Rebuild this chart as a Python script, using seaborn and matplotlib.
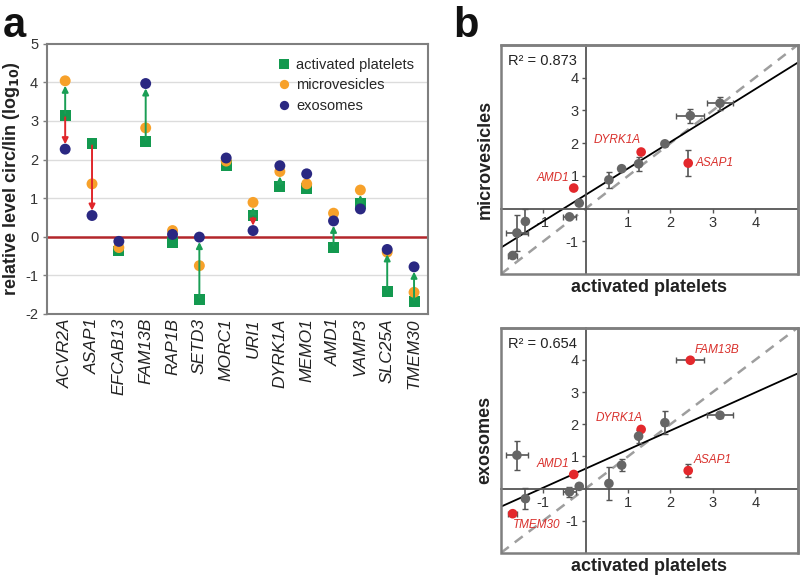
import numpy as np
import pandas as pd
import matplotlib.pyplot as plt
import seaborn as sns
from matplotlib.patches import Rectangle

# ---- panel a: relative circ/lin levels (log10) per gene ----
genes = ['ACVR2A', 'ASAP1', 'EFCAB13', 'FAM13B', 'RAP1B', 'SETD3', 'MORC1',
         'URI1', 'DYRK1A', 'MEMO1', 'AMD1', 'VAMP3', 'SLC25A', 'TMEM30']
platelets = [3.15, 2.42, -0.37, 2.46, -0.15, -1.63, 1.85, 0.55, 1.31, 1.25, -0.28, 0.86, -1.42, -1.69]
microvesicles = [4.04, 1.37, -0.28, 2.82, 0.16, -0.75, 1.96, 0.89, 1.69, 1.37, 0.61, 1.21, -0.40, -1.44]
exosomes = [2.27, 0.55, -0.12, 3.97, 0.06, -0.01, 2.04, 0.16, 1.84, 1.63, 0.41, 0.72, -0.33, -0.78]

# arrows start at activated platelets and point to the given fraction
arrow_genes = ['ACVR2A', 'ACVR2A', 'ASAP1', 'FAM13B', 'SETD3', 'URI1', 'URI1',
               'DYRK1A', 'AMD1', 'VAMP3', 'SLC25A', 'TMEM30']
arrow_targets = ['microvesicles', 'exosomes', 'exosomes', 'exosomes', 'exosomes',
                 'microvesicles', 'exosomes', 'microvesicles', 'exosomes',
                 'microvesicles', 'exosomes', 'exosomes']

# ---- panel b: means and errors used for the correlation plots ----
ap_mean = [3.17, 2.42, -0.38, 2.47, -0.15, -1.62, 1.87, 0.55, 1.31, 1.25, -0.28, 0.85, -1.42, -1.72]
ap_err = [0.30, 0.03, 0.16, 0.33, 0.03, 0.26, 0.06, 0.03, 0.02, 0.04, 0.02, 0.04, 0.03, 0.10]
mv_mean = [3.22, 1.39, -0.25, 2.84, 0.17, -0.74, 1.98, 0.88, 1.73, 1.37, 0.63, 1.22, -0.39, -1.43]
mv_err = [0.20, 0.39, 0.03, 0.21, 0.05, 0.55, 0.05, 0.25, 0.02, 0.21, 0.02, 0.05, 0.38, 0.03]
ex_mean = [2.28, 0.56, -0.10, 3.99, 0.07, 1.04, 2.05, 0.16, 1.84, 1.63, 0.44, 0.73, -0.31, -0.78]
ex_err = [0.07, 0.19, 0.15, 0.07, 0.05, 0.45, 0.35, 0.50, 0.03, 0.20, 0.02, 0.18, 0.33, 0.04]
mv_highlight = ['DYRK1A', 'ASAP1', 'AMD1']
ex_highlight = ['FAM13B', 'DYRK1A', 'ASAP1', 'AMD1', 'TMEM30']
r2_mv = 'R² = 0.873'
r2_ex = 'R² = 0.654'

series = ['activated platelets', 'microvesicles', 'exosomes']
colours = {'activated platelets': '#13994f', 'microvesicles': '#f7a12a', 'exosomes': '#2a2882'}
markers = {'activated platelets': 's', 'microvesicles': 'o', 'exosomes': 'o'}

sns.set_theme(style='white')
plt.rcParams['font.family'] = ['Liberation Sans', 'DejaVu Sans']
plt.rcParams['axes.unicode_minus'] = False

fig = plt.figure(figsize=(8, 5.76), dpi=100)

# ================= panel a =================
ax = fig.add_axes([0.059, 0.455, 0.476, 0.469])
pos = np.arange(len(genes))
df = pd.DataFrame({'pos': np.tile(pos, 3),
                   'value': platelets + microvesicles + exosomes,
                   'series': np.repeat(series, len(genes))})
sns.scatterplot(data=df, x='pos', y='value', hue='series', style='series',
                palette=colours, markers=markers, s=62, edgecolor='none',
                linewidth=0, ax=ax, zorder=3)

vals = {'activated platelets': platelets, 'microvesicles': microvesicles, 'exosomes': exosomes}
for g, tgt in zip(arrow_genes, arrow_targets):
    i = genes.index(g)
    y0 = platelets[i]
    y1 = vals[tgt][i]
    c = '#1a9e55' if y1 > y0 else '#e0262b'
    ax.annotate('', xy=(i, y1), xytext=(i, y0),
                arrowprops=dict(arrowstyle='-|>', color=c, lw=1.4,
                                shrinkA=1.5, shrinkB=3.5, mutation_scale=9),
                zorder=5)

ax.axhline(0, color='#b3262b', lw=1.8, zorder=2)
ax.set_ylim(-2, 5)
ax.set_xlim(-0.67, 13.52)
ax.set_yticks(range(-2, 6))
for yv in [-1, 1, 2, 3, 4]:
    ax.axhline(yv, color='#dcdcdc', lw=1.0, zorder=1)
ax.set_xticks(pos)
ax.set_xticklabels(genes, rotation=90, fontstyle='italic', fontsize=12.5, color='#222222')
ax.tick_params(axis='y', labelsize=10.5, length=3, width=1, left=True,
               color='#7f7f7f', labelcolor='#333333')
ax.tick_params(axis='x', length=0, pad=3)
ax.set_xlabel('')
ax.set_ylabel('relative level circ/lin (log$_{\\mathbf{10}}$)', fontsize=13,
              fontweight='bold', labelpad=2, color='#222222')
for sp in ax.spines.values():
    sp.set_color('#7f7f7f')
    sp.set_linewidth(1.5)

handles, labels = ax.get_legend_handles_labels()
keep = [(h, l) for h, l in zip(handles, labels) if l in series]
ax.legend([h for h, _ in keep], [l for _, l in keep], loc='upper right',
          frameon=False, fontsize=10.5, handletextpad=0.05, labelspacing=0.45,
          markerscale=0.85, borderaxespad=0.55, handlelength=1.5)

fig.text(0.004, 0.935, 'a', fontsize=30, fontweight='bold', color='#111111')
fig.text(0.567, 0.935, 'b', fontsize=30, fontweight='bold', color='#111111')


# ================= panel b =================
def correlation_panel(rect, yvals, yerr, highlight, ylabel, r2, offsets):
    bx = fig.add_axes(rect)
    bx.set_xlim(-2, 5)
    bx.set_ylim(-2, 5)
    bx.axline((0, 0), slope=1, color='#9e9e9e', lw=1.8, ls=(0, (4, 3)), zorder=1)
    sns.regplot(x=ap_mean, y=yvals, scatter=False, ci=None, truncate=False,
                line_kws=dict(color='black', lw=1.3, zorder=2), ax=bx)
    bx.errorbar(ap_mean, yvals, xerr=ap_err, yerr=yerr, fmt='none',
                ecolor='#555555', elinewidth=1.2, capsize=2, capthick=1.0, zorder=3)
    d = pd.DataFrame({'x': ap_mean, 'y': yvals, 'gene': genes})
    d['kind'] = np.where(d['gene'].isin(highlight), 'hi', 'lo')
    sns.scatterplot(data=d, x='x', y='y', hue='kind',
                    palette={'hi': '#e3282c', 'lo': '#666666'},
                    s=48, edgecolor='none', linewidth=0, legend=False, ax=bx, zorder=4)
    for g in highlight:
        i = genes.index(g)
        dx, dy, ha, va = offsets[g]
        bx.annotate(g, (ap_mean[i], yvals[i]), xytext=(dx, dy),
                    textcoords='offset points', ha=ha, va=va, fontsize=8.5,
                    fontstyle='italic', color='#d9302c', zorder=5)

    bx.spines['left'].set_position(('data', 0))
    bx.spines['bottom'].set_position(('data', 0))
    for s in ['left', 'bottom']:
        bx.spines[s].set_color('#555555')
        bx.spines[s].set_linewidth(1.3)
    for s in ['top', 'right']:
        bx.spines[s].set_color('#7f7f7f')
        bx.spines[s].set_linewidth(1.8)
    bx.add_patch(Rectangle((0, 0), 1, 1, transform=bx.transAxes, fill=False,
                           edgecolor='#7f7f7f', lw=1.8, clip_on=False, zorder=6))
    bx.set_xticks([-1, 1, 2, 3, 4])
    bx.set_yticks([-1, 1, 2, 3, 4])
    bx.tick_params(axis='both', direction='out', length=3, width=1, color='#555555',
                   labelsize=10.5, labelcolor='#333333', pad=2, bottom=True, left=True)
    bx.set_xlabel('activated platelets', fontsize=13, fontweight='bold', color='#222222')
    bx.set_ylabel(ylabel, fontsize=13, fontweight='bold', color='#222222')
    bx.xaxis.set_label_coords(0.5, -0.058, transform=bx.transAxes)
    bx.yaxis.set_label_coords(-0.054, 0.5, transform=bx.transAxes)
    bx.xaxis.label.set_va('center')
    bx.yaxis.label.set_va('center')
    bx.text(0.025, 0.96, r2, transform=bx.transAxes, ha='left', va='top',
            fontsize=10.5, color='#222222')
    return bx


correlation_panel([0.626, 0.524, 0.371, 0.398], mv_mean, mv_err, mv_highlight,
                  'microvesicles', r2_mv,
                  {'DYRK1A': (0, 4, 'right', 'bottom'),
                   'AMD1': (-3, 3, 'right', 'bottom'),
                   'ASAP1': (5, 0, 'left', 'center')})
correlation_panel([0.626, 0.040, 0.371, 0.391], ex_mean, ex_err, ex_highlight,
                  'exosomes', r2_ex,
                  {'FAM13B': (3, 3, 'left', 'bottom'),
                   'DYRK1A': (1, 4, 'right', 'bottom'),
                   'ASAP1': (4, 3, 'left', 'bottom'),
                   'AMD1': (-3, 3, 'right', 'bottom'),
                   'TMEM30': (0, -4, 'left', 'top')})

fig.savefig('out.png', dpi=100)
